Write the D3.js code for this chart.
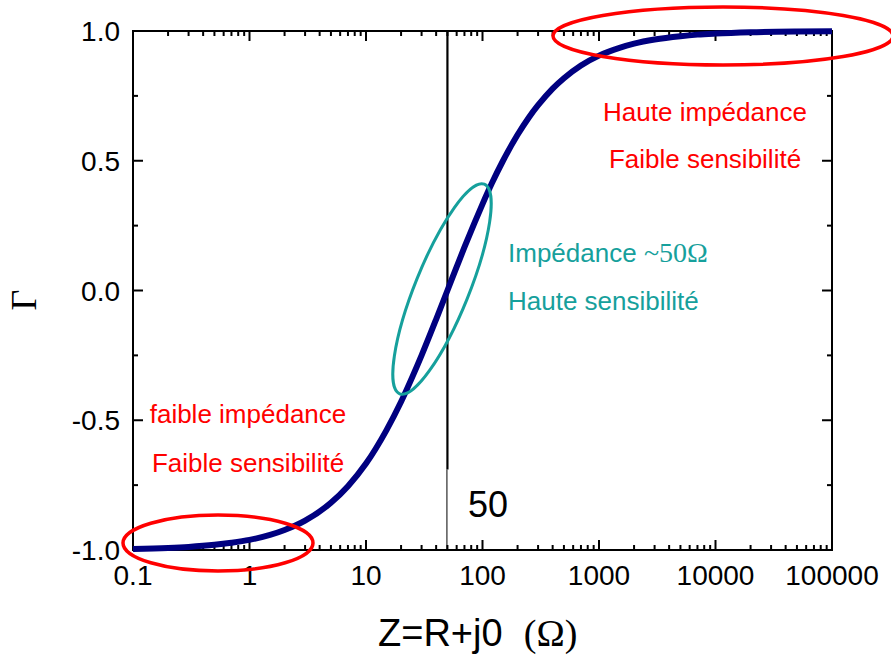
<!DOCTYPE html>
<html>
<head>
<meta charset="utf-8">
<script src="https://cdn.jsdelivr.net/npm/d3@7"></script>
<style>
  body { margin: 0; background: #fff; }
  svg { font-family: "Liberation Sans", Arial, sans-serif; }
</style>
</head>
<body>
<svg id="chart" width="891" height="656"></svg>
<script>
// impedance Z (ohm) and reflection coefficient
var impedance = [0.1, 0.2, 0.3, 0.5, 0.7, 1, 1.5, 2, 3, 5, 7, 10, 15, 20, 25, 30, 40, 50, 60, 70, 85, 100, 120, 150, 200, 250, 300, 400, 500, 700, 1000, 1500, 2000, 3000, 5000, 7000, 10000, 20000, 50000, 100000];
var gamma = [-0.996, -0.992, -0.988, -0.980, -0.972, -0.961, -0.942, -0.923, -0.887, -0.818, -0.754, -0.667, -0.538, -0.429, -0.333, -0.250, -0.111, 0.000, 0.091, 0.167, 0.259, 0.333, 0.412, 0.500, 0.600, 0.667, 0.714, 0.778, 0.818, 0.867, 0.905, 0.935, 0.951, 0.967, 0.980, 0.986, 0.990, 0.995, 0.998, 0.999];

var xTicks = [0.1, 1, 10, 100, 1000, 10000, 100000];
var xTickLabels = ['0.1', '1', '10', '100', '1000', '10000', '100000'];
var yTicks = [-1, -0.5, 0, 0.5, 1];
var yTickLabels = ['-1.0', '-0.5', '0.0', '0.5', '1.0'];
var yMinor = [-0.75, -0.25, 0.25, 0.75];
var refImpedance = 50;

var margin = {left: 133, top: 31, right: 59, bottom: 106};
var width = 891 - margin.left - margin.right,
    height = 656 - margin.top - margin.bottom;

var svg = d3.select('#chart');
var g = svg.append('g').attr('transform', 'translate(' + margin.left + ',' + margin.top + ')');

var x = d3.scaleLog().domain([0.1, 100000]).range([0, width]);
var y = d3.scaleLinear().domain([-1, 1]).range([height, 0]);

// minor ticks for log axis: 2..9 in every decade
var xMinor = [];
xTicks.slice(0, -1).forEach(function(t) {
    for (var k = 2; k <= 9; k++) xMinor.push(t * k);
});

// inward ticks on all four sides
function xTickLines(parent, vals, len) {
    parent.selectAll(null).data(vals).enter().append('line')
        .attr('stroke', '#000').attr('stroke-width', 2)
        .attr('x1', function(d) { return x(d); })
        .attr('x2', function(d) { return x(d); })
        .attr('y1', 0).attr('y2', len);
}
function yTickLines(parent, vals, len) {
    parent.selectAll(null).data(vals).enter().append('line')
        .attr('stroke', '#000').attr('stroke-width', 2)
        .attr('y1', function(d) { return y(d); })
        .attr('y2', function(d) { return y(d); })
        .attr('x1', 0).attr('x2', len);
}

var axBottom = g.append('g').attr('transform', 'translate(0,' + height + ')');
xTickLines(axBottom, xTicks, -10);
xTickLines(axBottom, xMinor, -5);
var axTop = g.append('g');
xTickLines(axTop, xTicks, 10);
xTickLines(axTop, xMinor, 5);
var axLeft = g.append('g');
yTickLines(axLeft, yTicks, 10);
yTickLines(axLeft, yMinor, 5);
var axRight = g.append('g').attr('transform', 'translate(' + width + ',0)');
yTickLines(axRight, yTicks, -10);
yTickLines(axRight, yMinor, -5);

// tick labels
g.selectAll('.xlab').data(xTicks).enter().append('text')
    .attr('x', function(d) { return x(d); })
    .attr('y', height + 35)
    .attr('text-anchor', 'middle')
    .style('font-size', '28px')
    .text(function(d, i) { return xTickLabels[i]; });

g.selectAll('.ylab').data(yTicks).enter().append('text')
    .attr('x', -13)
    .attr('y', function(d) { return y(d); })
    .attr('dy', '0.36em')
    .attr('text-anchor', 'end')
    .style('font-size', '28px')
    .text(function(d, i) { return yTickLabels[i]; });

// 50 ohm reference line
g.append('line')
    .attr('x1', x(refImpedance)).attr('x2', x(refImpedance))
    .attr('y1', 0).attr('y2', y(-0.69))
    .attr('stroke', '#000').attr('stroke-width', 2.2);
g.append('line')
    .attr('x1', x(refImpedance) - 0.5).attr('x2', x(refImpedance) - 0.5)
    .attr('y1', y(-0.69)).attr('y2', height)
    .attr('stroke', '#000').attr('stroke-width', 1);

// frame
g.append('rect')
    .attr('width', width).attr('height', height)
    .attr('fill', 'none').attr('stroke', '#000').attr('stroke-width', 2);

// curve
var pts = impedance.map(function(z, i) { return [z, gamma[i]]; });
var line = d3.line()
    .x(function(d) { return x(d[0]); })
    .y(function(d) { return y(d[1]); })
    .curve(d3.curveMonotoneX);
g.append('path')
    .datum(pts)
    .attr('d', line)
    .attr('fill', 'none')
    .attr('stroke', '#000080')
    .attr('stroke-width', 6);

// highlight ellipses
var red = '#ff0000', teal = '#16a09c';
svg.append('ellipse')
    .attr('cx', 723).attr('cy', 36).attr('rx', 170).attr('ry', 29)
    .attr('fill', 'none').attr('stroke', red).attr('stroke-width', 3.5);
svg.append('ellipse')
    .attr('cx', 218).attr('cy', 543).attr('rx', 95).attr('ry', 28)
    .attr('fill', 'none').attr('stroke', red).attr('stroke-width', 3.5);
svg.append('ellipse')
    .attr('cx', 0).attr('cy', 0).attr('rx', 113).attr('ry', 27)
    .attr('transform', 'translate(442,289) rotate(-68)')
    .attr('fill', 'none').attr('stroke', teal).attr('stroke-width', 3);

// annotations
function note(txt, px, py, color, anchor) {
    return svg.append('text')
        .attr('x', px).attr('y', py)
        .attr('text-anchor', anchor || 'start')
        .attr('fill', color)
        .style('font-size', '26px')
        .text(txt);
}
note('Haute impédance', 705, 121, red, 'middle');
note('Faible sensibilité', 705, 168, red, 'middle');
note('faible impédance', 248, 423, red, 'middle');
note('Faible sensibilité', 248, 472, red, 'middle');

var imp = note('Impédance ', 508, 262, teal);
imp.append('tspan')
    .style('font-family', '"Liberation Serif", "Times New Roman", serif')
    .style('font-size', '28px')
    .text('~50Ω');
note('Haute sensibilité', 508, 310, teal);

svg.append('text')
    .attr('x', 468).attr('y', 517)
    .style('font-size', '36px')
    .text('50');

// axis titles
var xt = svg.append('text')
    .attr('x', 378).attr('y', 646)
    .style('font-size', '38px')
    .text('Z=R+j0\u00a0\u00a0');
xt.append('tspan')
    .style('font-family', '"Liberation Serif", "Times New Roman", serif')
    .text('(Ω)');

svg.append('text')
    .attr('transform', 'translate(36,300) rotate(-90)')
    .attr('text-anchor', 'middle')
    .style('font-family', '"Liberation Serif", "Times New Roman", serif')
    .style('font-size', '36px')
    .text('Γ');
</script>
</body>
</html>
